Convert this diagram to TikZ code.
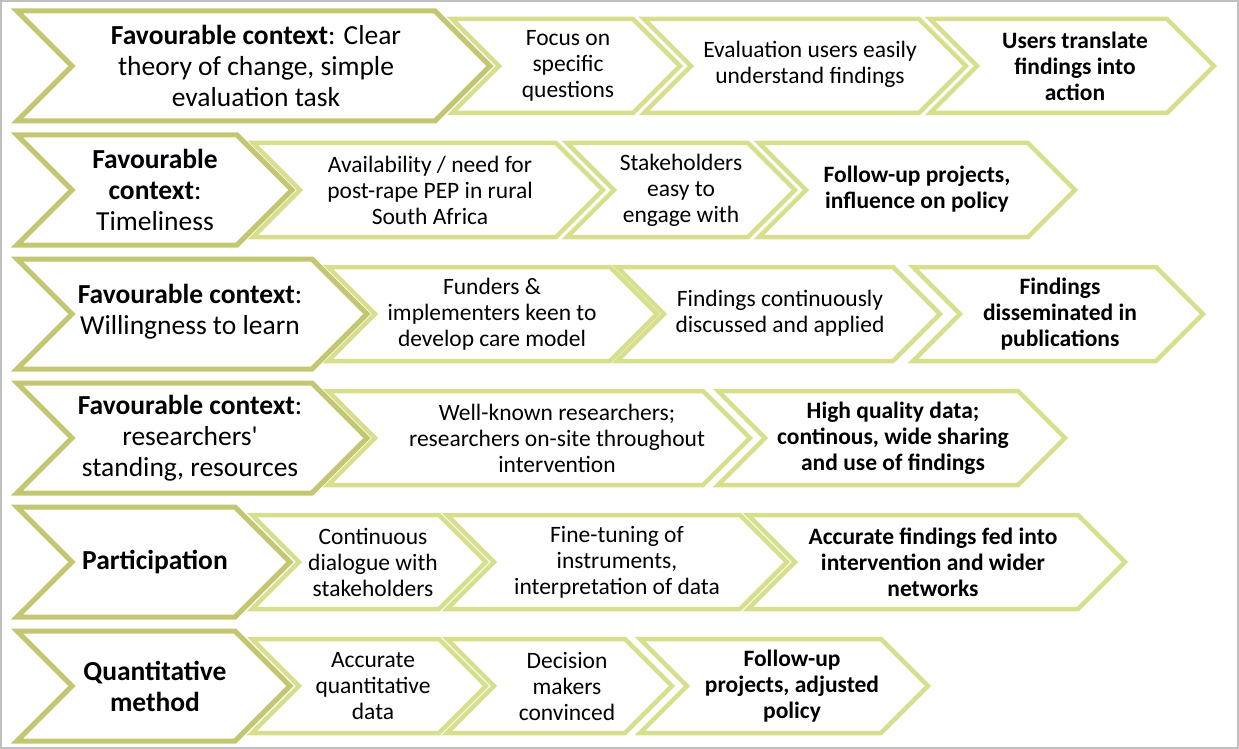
\documentclass[tikz,border=0pt]{standalone}
\usepackage{fontspec}
\setmainfont{Carlito}

\definecolor{olivedark}{HTML}{C3C771}
\definecolor{olivelight}{HTML}{D7DF8D}
\definecolor{framegray}{HTML}{BFBFBF}

% chevron: style, left x, tip x, centre y, half height
\newcommand{\chev}[5]{%
  \draw[#1] (#2,#4-#5) -- (#3-#5,#4-#5) -- (#3,#4) -- (#3-#5,#4+#5)
    -- (#2,#4+#5) -- (#2+#5,#4) -- cycle;}

\begin{document}
\begin{tikzpicture}[x=1pt, y=-1pt]
        % Define styles for shapes
        \tikzstyle{outer} = [draw=olivedark, line width=5pt, fill=white, line join=miter]
        \tikzstyle{inner} = [draw=olivelight, line width=4.5pt, fill=white, line join=miter]
        \tikzstyle{headtxt} = [align=center, inner sep=0pt, font=\fontsize{27.5}{31}\selectfont]
        \tikzstyle{steptxt} = [align=center, inner sep=0pt, font=\fontsize{23.5}{26}\selectfont]
        \tikzstyle{boldtxt} = [steptxt, font=\fontsize{23.5}{26}\selectfont\bfseries]
        \useasboundingbox (0,0) rectangle (1239,749);
        \draw[framegray, line width=2pt] (1,1) rectangle (1238,748);

        % Row 1
        \chev{outer}{17}{490}{66}{55}
        \node[headtxt] (ctx1) at (256,66) {\textbf{Favourable context}: Clear\\theory of change, simple\\evaluation task};
        \chev{inner}{452}{680}{66}{47}
        \node[steptxt] (focus) at (568,66) {Focus on\\specific\\questions};
        \chev{inner}{644}{966}{66}{47}
        \node[steptxt] (understand) at (810,64) {Evaluation users easily\\understand findings};
        \chev{inner}{930}{1214}{66}{47}
        \node[boldtxt] (action) at (1075,66) {Users translate\\findings into\\action};

        % Row 2
        \chev{outer}{17}{292}{190}{55}
        \node[headtxt] (ctx2) at (155,190) {\textbf{Favourable}\\\textbf{context}:\\Timeliness};
        \chev{inner}{253}{603}{190}{47}
        \node[steptxt] (availability) at (430,190) {Availability / need for\\post-rape PEP in rural\\South Africa};
        \chev{inner}{567}{795}{190}{47}
        \node[steptxt] (stakeholders) at (681,190) {Stakeholders\\easy to\\engage with};
        \chev{inner}{759}{1075}{190}{47}
        \node[boldtxt] (followupA) at (917,189) {Follow-up projects,\\influence on policy};

        % Row 3
        \chev{outer}{17}{367}{314}{55}
        \node[headtxt] (ctx3) at (190,312) {\textbf{Favourable context}:\\Willingness to learn};
        \chev{inner}{328}{657}{314}{47}
        \node[steptxt] (funders) at (492,314) {Funders \&\\implementers keen to\\develop care model};
        \chev{inner}{617}{940}{314}{47}
        \node[steptxt] (discussed) at (780,313) {Findings continuously\\discussed and applied};
        \chev{inner}{913}{1203}{314}{47}
        \node[boldtxt] (publications) at (1060,314) {Findings\\disseminated in\\publications};

        % Row 4
        \chev{outer}{17}{367}{438}{55}
        \node[headtxt] (ctx4) at (190,438) {\textbf{Favourable context}:\\researchers\textquotesingle\\standing, resources};
        \chev{inner}{328}{750}{438}{47}
        \node[steptxt] (researchers) at (557,438) {Well-known researchers;\\researchers on-site throughout\\intervention};
        \chev{inner}{718}{1065}{438}{47}
        \node[boldtxt] (quality) at (893,438) {High quality data;\\continous, wide sharing\\and use of findings};

        % Row 5
        \chev{outer}{17}{290}{562}{55}
        \node[headtxt, font=\fontsize{27.5}{31}\selectfont\bfseries] (participation) at (155,562) {Participation};
        \chev{inner}{252}{486}{562}{47}
        \node[steptxt] (dialogue) at (373,562) {Continuous\\dialogue with\\stakeholders};
        \chev{inner}{447}{787}{562}{47}
        \node[steptxt] (finetuning) at (617,562) {Fine-tuning of\\instruments,\\interpretation of data};
        \chev{inner}{748}{1125}{562}{47}
        \node[boldtxt] (fedinto) at (933,562) {Accurate findings fed into\\intervention and wider\\networks};

        % Row 6
        \chev{outer}{17}{290}{686}{55}
        \node[headtxt, font=\fontsize{27.5}{31}\selectfont\bfseries] (quantitative) at (155,686) {Quantitative\\method};
        \chev{inner}{252}{486}{686}{47}
        \node[steptxt] (quantdata) at (373,686) {Accurate\\quantitative\\data};
        \chev{inner}{447}{672}{686}{47}
        \node[steptxt] (convinced) at (567,686) {Decision\\makers\\convinced};
        \chev{inner}{640}{928}{686}{47}
        \node[boldtxt] (followupB) at (792,686) {Follow-up\\projects, adjusted\\policy};
\end{tikzpicture}
\end{document}
